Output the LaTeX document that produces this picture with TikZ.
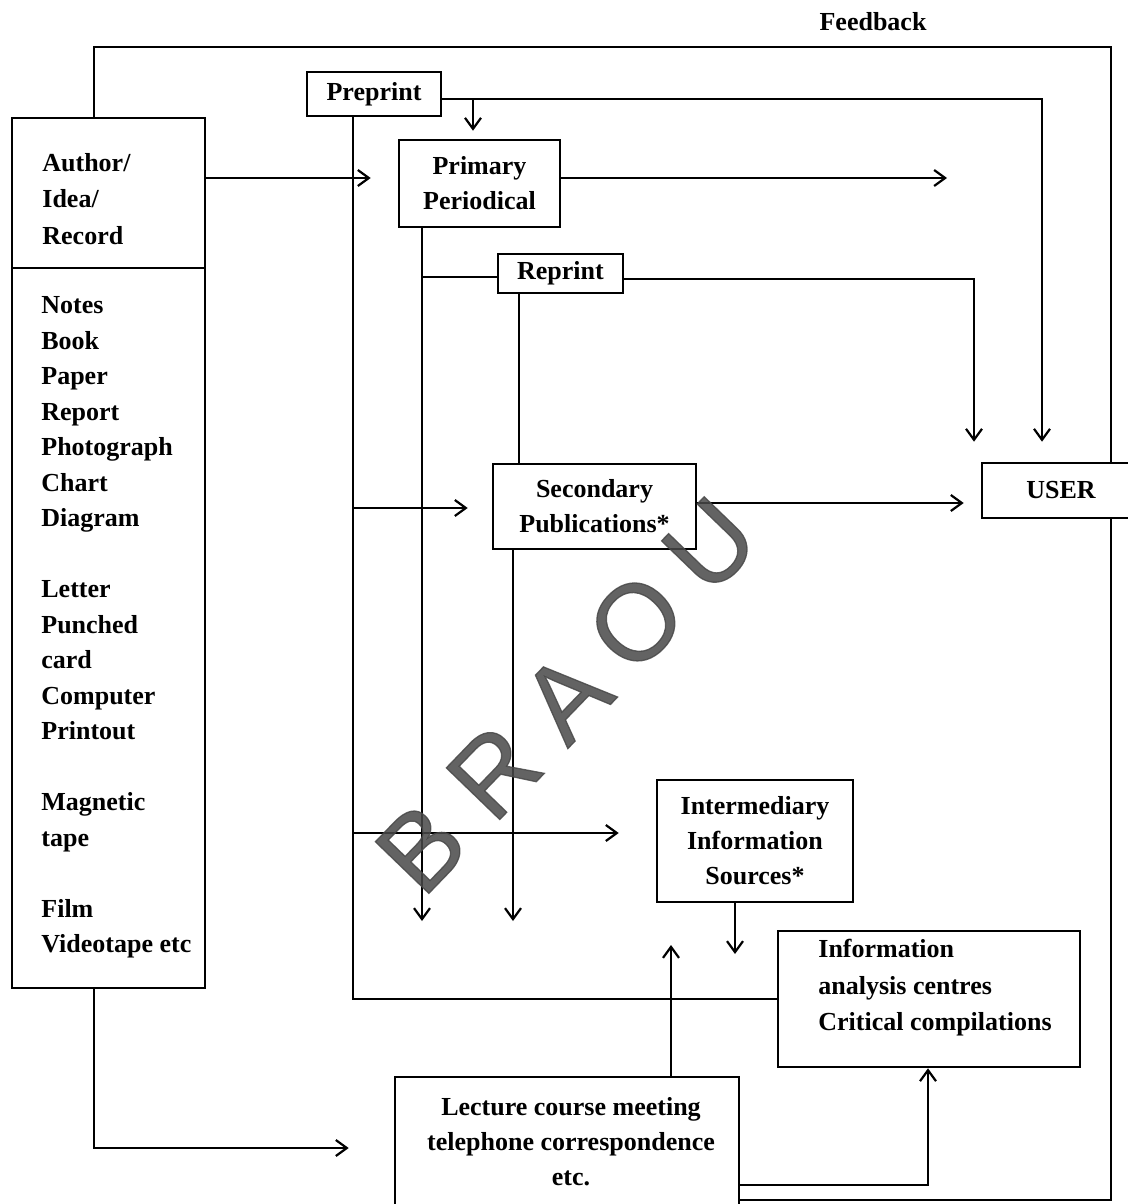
\documentclass[tikz,border=0pt]{standalone}
\usepackage{fontspec}
\setmainfont{Liberation Serif}
\newfontfamily\wmfont[FakeBold=1.2]{Liberation Sans}
\usetikzlibrary{arrows.meta}
\definecolor{wm}{RGB}{72,72,72}
\pgfdeclarelayer{wires}
\pgfsetlayers{wires,main}
\begin{document}
\begin{tikzpicture}[x=0.5pt,y=-0.5pt,
  every node/.style={font=\fontsize{13}{17.5}\selectfont\bfseries},
  box/.style={draw, fill=white, line width=1.3pt, inner sep=0pt, align=center},
  link/.style={line width=1.2pt},
  arr/.style={link, -{Straight Barb[length=5.5pt,width=8pt,line width=1.1pt]}},
  listitem/.style={anchor=west, inner sep=0pt, text height=8.6pt, text depth=0pt},
  wmletter/.style={font=\wmfont\fontsize{54}{54}\selectfont, text=wm, rotate=46, inner sep=0pt}
]
\useasboundingbox (0,0) rectangle (1128,1204);
\clip (0,0) rectangle (1128,1204);

% ---------- boxes ----------
\node[box, minimum width=96.5pt, minimum height=75pt]  (authtop)  at (108.5,193) {};
\node[box, minimum width=96.5pt, minimum height=360pt] (authlist) at (108.5,628) {};
\node[box, minimum width=67pt,   minimum height=22pt]   (pre)   at (374,94)      {Preprint};
\node[box, minimum width=80.5pt, minimum height=43.5pt] (prim)  at (479.5,183.5) {Primary\\Periodical};
\node[box, minimum width=62.5pt, minimum height=19.5pt] (rep)   at (560.5,273.5) {Reprint};
\node[box, minimum width=101.5pt,minimum height=42.5pt] (sec)   at (594.5,506.5) {Secondary\\Publications*};
\node[box, minimum width=79pt,   minimum height=27.5pt] (user)  at (1061,490.5)  {USER};
\node[box, minimum width=98pt,   minimum height=61pt]   (inter) at (755,841)     {Intermediary\\Information\\Sources*};
\node[box, minimum width=151pt,  minimum height=68pt]   (ia)    at (929,999)     {};
\node[box, minimum width=172pt,  minimum height=65.5pt] (lec)   at (567,1142.5)  {};

% ---------- box texts ----------
\node[anchor=west, align=left, inner sep=0pt, font=\fontsize{13}{18.25}\selectfont\bfseries]
  (authtxt) at (42,199) {Author/\\Idea/\\Record};
\foreach \t/\y [count=\i] in {Notes/305, Book/340.5, Paper/376, Report/411.5,
    Photograph/447, Chart/482.5, Diagram/518, Letter/589, Punched/624.5,
    card/660, Computer/695.5, Printout/731, Magnetic/802, tape/837.5,
    Film/908.5, Videotape etc/944}
  \node[listitem] (li\i) at (41,\y) {\t};
\node[align=left, inner sep=0pt, font=\fontsize{13}{18.25}\selectfont\bfseries]
  (iatxt) at (935,988) {Information\\analysis centres\\Critical compilations};
\node[align=center, inner sep=0pt] (lectxt) at (571,1142)
  {Lecture course meeting\\telephone correspondence\\etc.};
\node[inner sep=0pt] (fb) at (873,22) {Feedback};

% ---------- free ends and junctions ----------
\coordinate (fbTL) at (94,47);
\coordinate (fbTR) at (1111,47);
\coordinate (fbBR) at (1111,1200);
\coordinate (primOut) at (947,178);
\coordinate (primDown) at (422,921);
\coordinate (secDown) at (513,921);
\coordinate (interDown) at (735,954);
\coordinate (lecUp) at (671,945);
\coordinate (jPre) at (473,99);
\coordinate (jBusA) at (353,508);
\coordinate (jBusB) at (353,833);
\coordinate (jPrim) at (422,277);

\begin{pgfonlayer}{wires}
% ---------- feedback loop ----------
\draw[link] (lec.east |- fbBR) -- (fbBR) -- (fbTR) -- (fbTL) -- (fbTL |- authtop.north);

% ---------- preprint ----------
\draw[arr, shorten >=10pt] (pre.east |- jPre) -| (user.north -| 1042,0);
\draw[arr, shorten >=4pt] (jPre) -- (prim.north -| jPre);
\draw[link] (pre.south -| jBusA) |- (ia.west);
\draw[arr, shorten >=12pt] (jBusA) -- (sec.west |- jBusA);
\draw[arr, shorten >=18.5pt] (jBusB) -- (inter.west |- jBusB);

% ---------- author / primary ----------
\draw[arr, shorten >=13.5pt] (authtop.east |- primOut) -- (prim.west |- primOut);
\draw[arr] (prim.east |- primOut) -- (primOut);
\draw[arr] (prim.south -| primDown) -- (primDown);
\draw[link] (jPrim) -- (rep.west |- jPrim);

% ---------- reprint / secondary ----------
\draw[arr, shorten >=10pt] (rep.east |- 0,279) -| (user.north -| 974,0);
\draw[link] (rep.south -| 519,0) -- (sec.north -| 519,0);
\draw[arr, shorten >=8.5pt] (sec.east |- 0,503) -- (user.west |- 0,503);
\draw[arr] (sec.south -| secDown) -- (secDown);

% ---------- intermediary / lecture ----------
\draw[arr] (inter.south -| interDown) -- (interDown);
\draw[arr] (lec.north -| lecUp) -- (lecUp);
\draw[arr] (lec.east |- 0,1185) -| (ia.south -| 928,0);
\draw[arr, shorten >=22.5pt] (authlist.south -| fbTL) |- (lec.west |- 0,1148);
\end{pgfonlayer}

% ---------- watermark ----------
\begin{scope}[opacity=0.85]
\node[wmletter] (wmB) at (421,848) {B};
\node[wmletter] (wmR) at (494,772) {R};
\node[wmletter] (wmA) at (566,697) {A};
\node[wmletter] (wmO) at (636,622) {O};
\node[wmletter] (wmU) at (710,545) {U};
\end{scope}
\end{tikzpicture}
\end{document}
